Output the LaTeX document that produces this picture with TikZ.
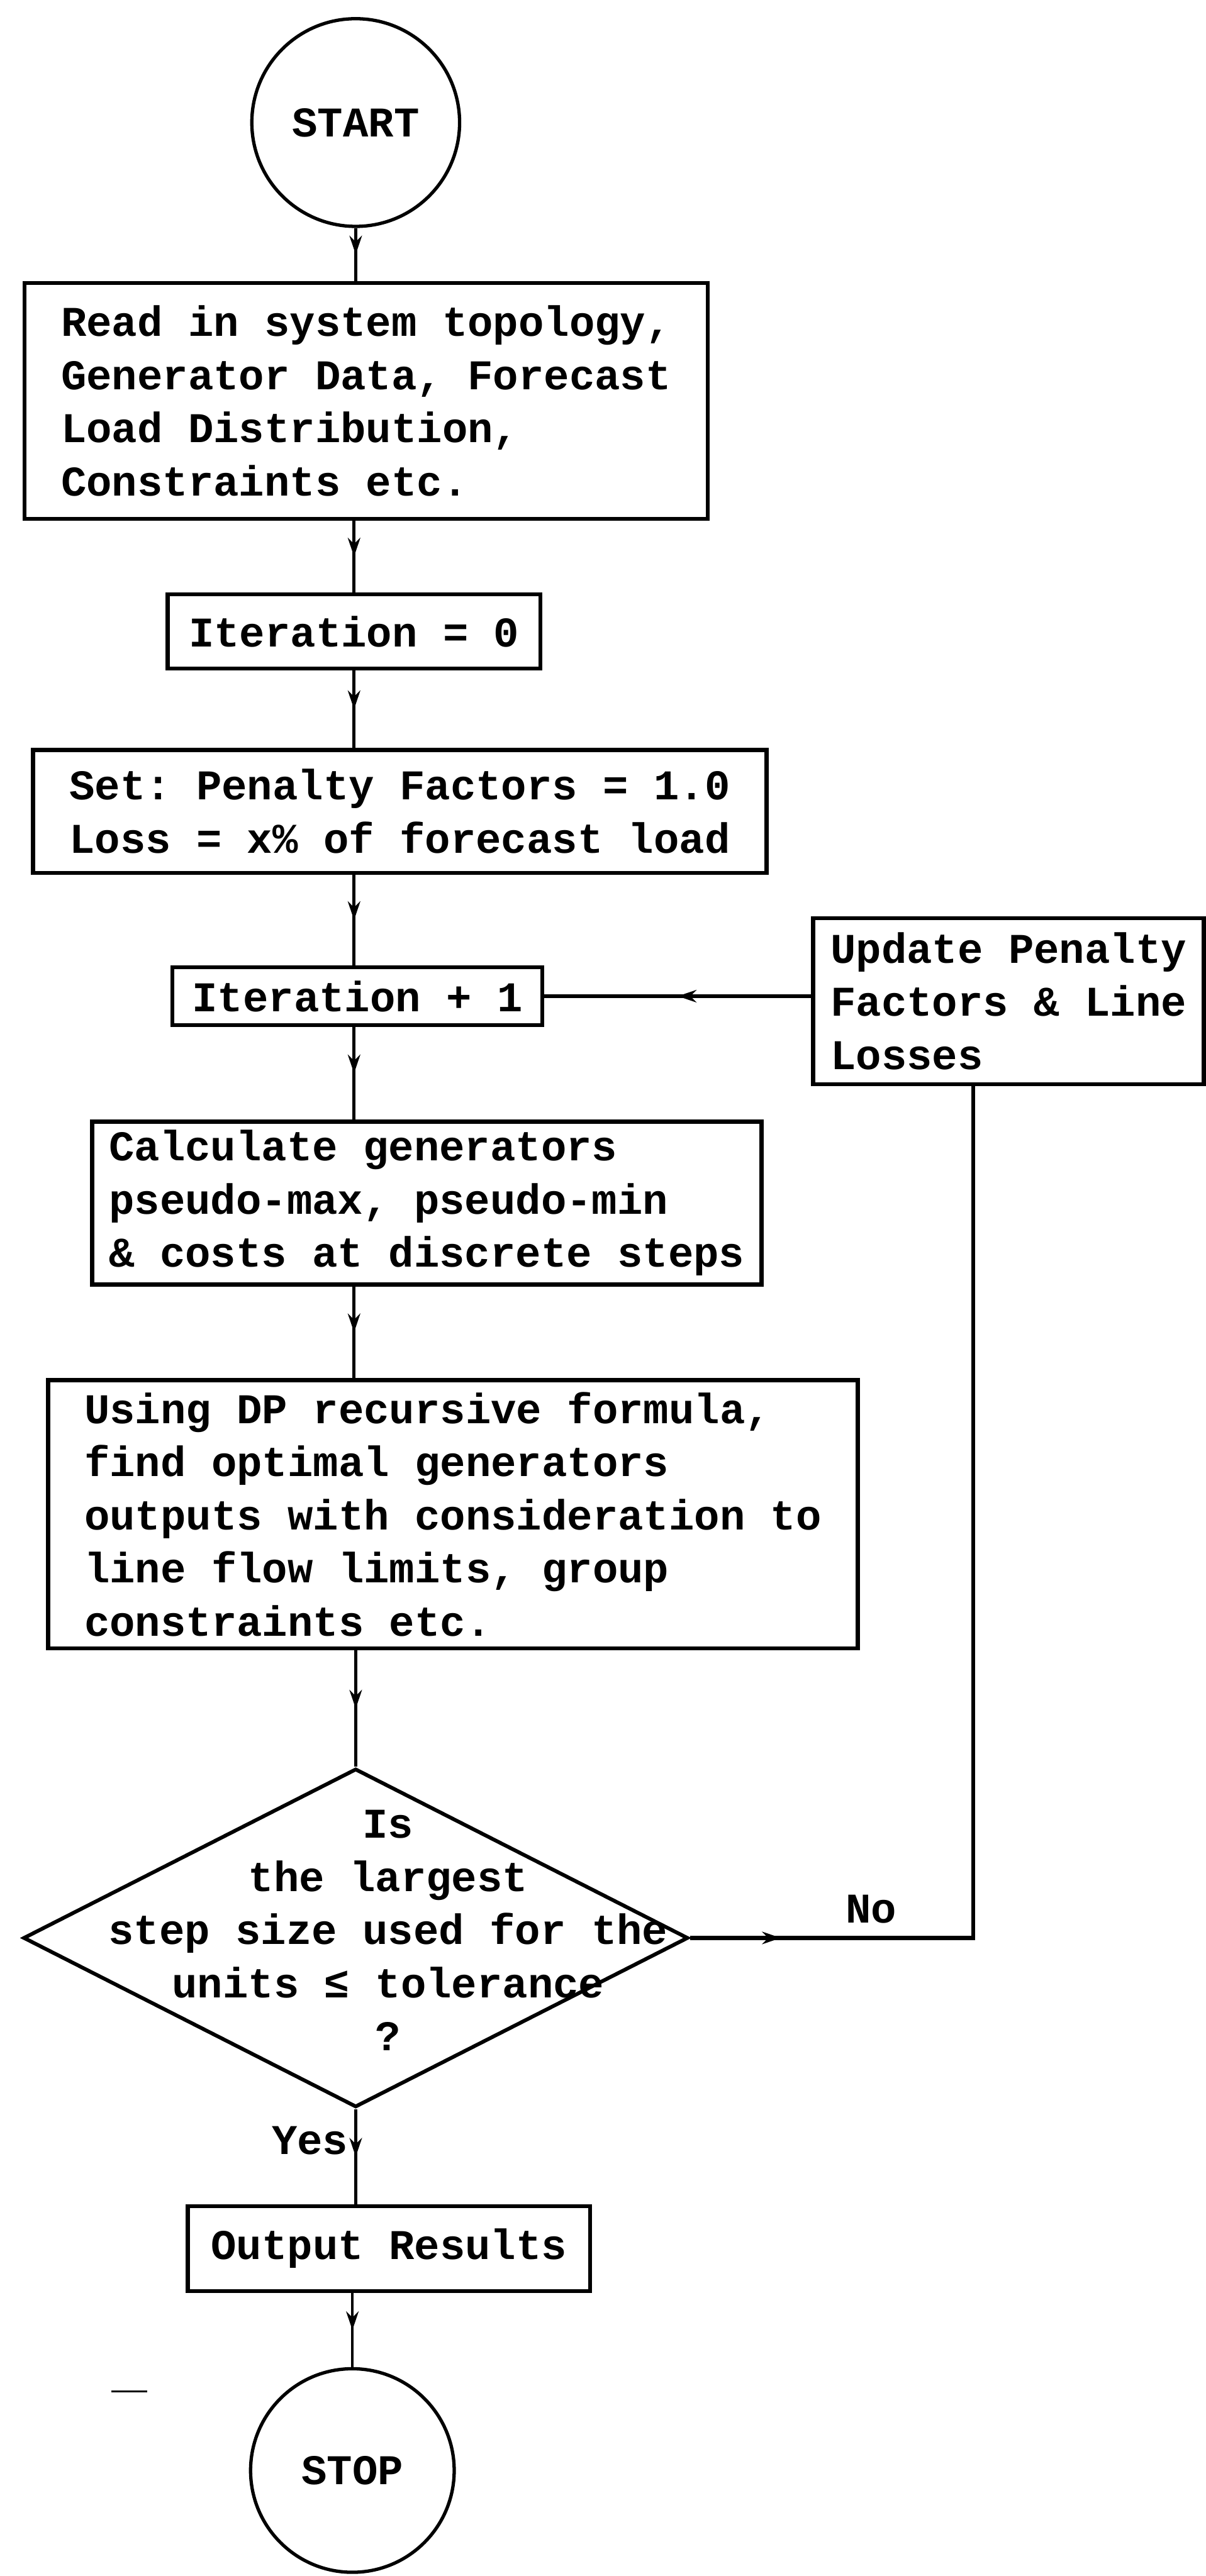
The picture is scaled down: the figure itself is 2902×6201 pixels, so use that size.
\documentclass[tikz,border=0pt]{standalone}
\usepackage{fontspec}
\setmonofont{Liberation Mono}
\usetikzlibrary{shapes.geometric,arrows.meta,decorations.markings}

\tikzset{
  proc/.style={draw, line width=1mm, rectangle, align=left, inner xsep=2mm, inner ysep=0pt},
  term/.style={draw, circle, line width=0.8mm, inner sep=0pt},
  decision/.style={draw, diamond, line width=0.9mm, inner sep=0pt,
    minimum width=160mm, minimum height=81.5mm},
  flow/.style={line width=0.7mm, postaction={decorate},
    decoration={markings, mark=at position #1 with {\arrow{Stealth[length=4.5mm,width=3mm]}}}},
  flow/.default=0.5,
  feedback/.style={flow=#1, line width=1mm},
  feedback/.default=0.5,
}

\begin{document}
\begin{tikzpicture}[x=0.1mm, y=-0.1mm, font=\ttfamily\bfseries\fontsize{29}{36.4}\selectfont]
  \useasboundingbox (0,0) rectangle (2902,6201);
  \coordinate (axis) at (852,0);

  % main column
  \node[term, minimum size=50mm] (start) at (856,295) {START};
  \node[proc, minimum width=164.4mm, minimum height=56.8mm] (read) at (881,965)
    {Read in system topology,\\Generator Data, Forecast\\Load Distribution,\\Constraints etc.};
  \node[proc, minimum width=89.7mm, minimum height=17.9mm] (iter0) at (852,1520) {Iteration = 0};
  \node[proc, minimum width=176.5mm, minimum height=29.6mm] (set) at (962,1953)
    {Set: Penalty Factors = 1.0\\Loss = x\% of forecast load};
  \node[proc, minimum width=89mm, minimum height=13.9mm] (iter1) at (860,2398) {Iteration + 1};
  \node[proc, minimum width=161.1mm, minimum height=39.2mm] (calc) at (1027,2896)
    {Calculate generators\\pseudo-max, pseudo-min\\\& costs at discrete steps};
  \node[proc, minimum width=194.9mm, minimum height=64.6mm] (dp) at (1090,3645)
    {Using DP recursive formula,\\find optimal generators\\outputs with consideration to\\line flow limits, group\\constraints etc.};
  \node[decision, label={[align=center, xshift=7.8mm, yshift=1.8mm]center:Is\\the largest\\step size used for the\\units ≤ tolerance\\?}] (test) at (856,4665) {};
  \node[proc, minimum width=96.8mm, minimum height=20.4mm] (out) at (936,5413) {Output Results};
  \node[term, minimum size=49mm] (stop) at (848,5947) {STOP};

  % side box of the loop
  \node[proc, minimum width=94mm, minimum height=40mm] (update) at (2427,2410)
    {Update Penalty\\Factors \& Line\\Losses};
  \coordinate (ret) at ([xshift=-8.5mm]update.south);

  % connectors
  \draw[flow] (start.south) -- (start.south |- read.north);
  \draw[flow] (read.south -| axis) -- (iter0.north -| axis);
  \draw[flow] (iter0.south -| axis) -- (set.north -| axis);
  \draw[flow] (set.south -| axis) -- (iter1.north -| axis);
  \draw[flow] (iter1.south -| axis) -- (calc.north -| axis);
  \draw[flow] (calc.south -| axis) -- (dp.north -| axis);
  \draw[flow] (dp.south -| test.north) -- (test.north);
  \draw[flow] (test.south) -- (test.south |- out.north) node[pos=0.33, left, inner sep=1.5mm] (yes) {Yes};
  \draw[flow] (out.south -| stop.north) -- (stop.north);

  % back to the next iteration
  \draw[feedback=0.08] (test.east) -- (test.east -| ret) node[pos=0.64, above, inner sep=3mm] (no) {No} -- (ret);
  \draw[feedback] (update.west |- iter1.east) -- (iter1.east);

  \draw[line width=0.4mm] (268,5757) -- (355,5757);
\end{tikzpicture}
\end{document}
